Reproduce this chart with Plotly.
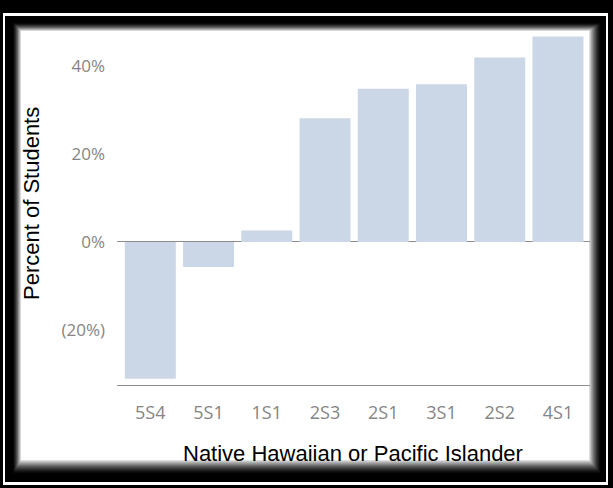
import plotly.graph_objects as go

categories = ["5S4", "5S1", "1S1", "2S3", "2S1", "3S1", "2S2", "4S1"]
values = [-31.2, -5.7, 2.6, 28.2, 34.9, 35.9, 42.0, 46.8]
tick_vals = [-20, 0, 20, 40]
tick_text = ["(20%)", "0%", "20%", "40%"]

W, H = 613, 488
PL, PR, PT, PB = 117, 590, 33, 385

def px(x):
    return (x - PL) / (PR - PL)

def py(y):
    return (PB - y) / (PB - PT)

shapes = []
def rect(x0, y0, x1, y1, color, layer="below"):
    shapes.append(dict(type="rect", xref="paper", yref="paper",
                       x0=px(x0), x1=px(x1), y0=py(y1), y1=py(y0),
                       fillcolor=color, line=dict(width=0), layer=layer))

# frame
rect(3, 13, 608, 485, "white")
rect(5, 16, 606, 482, "black")
# shadow gradient
outer = (12, 22, 602, 475)
inner = (21, 31, 589, 460)
n = 12
for i in range(n + 1):
    t = i / n
    x0 = outer[0] + (inner[0] - outer[0]) * t
    y0 = outer[1] + (inner[1] - outer[1]) * t
    x1 = outer[2] + (inner[2] - outer[2]) * t
    y1 = outer[3] + (inner[3] - outer[3]) * t
    g = int(round(255 * (t ** 1.6)))
    rect(x0, y0, x1, y1, f"rgb({g},{g},{g})")

fig = go.Figure(go.Bar(x=categories, y=values, marker_color="#cbd6e6",
                       marker_line_width=0, hoverinfo="skip"))

fig.update_layout(
    width=W, height=H,
    margin=dict(l=PL, r=W - PR, t=PT, b=H - PB, pad=0),
    paper_bgcolor="black",
    plot_bgcolor="rgba(0,0,0,0)",
    bargap=0.125,
    showlegend=False,
    shapes=shapes,
    annotations=[
        dict(text="Percent of Students", xref="paper", yref="paper",
             x=px(31), y=py(204), textangle=-90, showarrow=False,
             xanchor="center", yanchor="middle",
             font=dict(family="Liberation Sans", size=22, color="black")),
        dict(text="Native Hawaiian or Pacific Islander", xref="paper", yref="paper",
             x=px(353), y=py(453), showarrow=False,
             xanchor="center", yanchor="middle",
             font=dict(family="Liberation Sans", size=22, color="black")),
    ],
)

fig.update_xaxes(
    type="category", range=[-0.572, 7.55],
    showline=True, linecolor="#8c8c8c", linewidth=1,
    showgrid=False, ticks="", ticklabelstandoff=11,
    tickfont=dict(family="Open Sans", size=18, color="#858585"),
)
fig.update_yaxes(
    range=[-32.6, 47.6],
    tickvals=tick_vals, ticktext=tick_text,
    showgrid=False, showline=False,
    zeroline=True, zerolinecolor="#8c8c8c", zerolinewidth=1,
    ticks="", ticklabelstandoff=11,
    tickfont=dict(family="Open Sans", size=17, color="#858585"),
)

fig.write_html("out.html", config={"displayModeBar": False},
               post_script="document.body.style.margin='0px';")
